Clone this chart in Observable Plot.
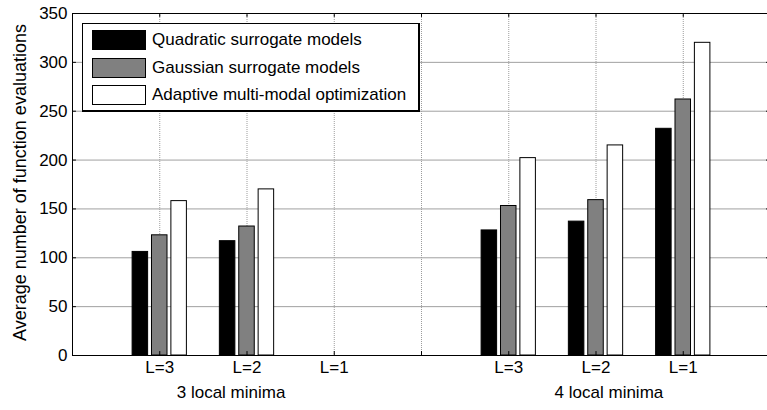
<!DOCTYPE html>
<html><head><meta charset="utf-8">
<script src="https://cdn.jsdelivr.net/npm/d3@7"></script>
<script src="https://cdn.jsdelivr.net/npm/@observablehq/plot@0.6"></script>
<style>
html,body{margin:0;padding:0;background:#fff;overflow:hidden}
#wrap{position:relative;width:767px;height:410px;font-family:"Liberation Sans",Arial,Helvetica,sans-serif;color:#000}
#wrap svg{display:block;font-family:"Liberation Sans",Arial,Helvetica,sans-serif}
#legend{position:absolute;left:82px;top:23px;width:335px;height:86px;border:1px solid #000;border-right-width:2px;border-bottom-width:2px;background:#fff;box-sizing:content-box}
.row{position:absolute;left:9px;height:20px;display:flex;align-items:center}
.sw{width:52px;height:18px;border:1px solid #000;margin-right:6px}
.lab{font-size:17px;line-height:20px;white-space:nowrap}
</style></head><body><div id="wrap"></div>
<script>
// ---- data ----
const categories = ["L=3", "L=2", "L=1", "", "L=3", "L=2", "L=1"];
const seriesNames = ["Quadratic surrogate models", "Gaussian surrogate models", "Adaptive multi-modal optimization"];
const quadratic = [106, 117, 0, 0, 128, 137, 232];
const gaussian  = [123, 132, 0, 0, 153, 159, 262];
const adaptive  = [158, 170, 0, 0, 202, 215, 320];
const seriesColors = ["#000000", "#808080", "#ffffff"];
const groupNames = ["3 local minima", "4 local minima"];
const yTicks = [0, 50, 100, 150, 200, 250, 300, 350];
const yTitle = "Average number of function evaluations";

// ---- derived ----
const seriesValues = [quadratic, gaussian, adaptive];
const positions = categories.map((_, i) => i + 1);
const xMax = categories.length + 1;
const yMax = yTicks[yTicks.length - 1];
const nS = seriesValues.length;
const groupW = Math.min(0.8, nS / (nS + 1.5));
const slot = groupW / nS;
const barW = slot * 0.8;

const barMarks = seriesValues.map((vals, k) => {
  const rows = vals.map((v, i) => ({pos: i + 1, value: v})).filter(d => d.value > 0);
  const off = (k - (nS - 1) / 2) * slot;
  return Plot.rectY(rows, {
    x1: d => d.pos + off - barW / 2,
    x2: d => d.pos + off + barW / 2,
    y: "value",
    fill: seriesColors[k],
    stroke: "#000",
    strokeWidth: 1
  });
});

const tickLenX = 0.045;   // in x data units
const tickLenY = 4;       // in y data units
const fs = 17;

const xLabel = groupNames.join("\u00a0".repeat(57));

const chart = Plot.plot({
  width: 767,
  height: 410,
  marginLeft: 72,
  marginRight: 0,
  marginTop: 13,
  marginBottom: 55,
  style: {fontFamily: '"Liberation Sans", Arial, sans-serif', fontSize: fs + "px", background: "#fff", color: "#000"},
  x: {domain: [0, xMax], range: [72, 770], axis: null},
  y: {domain: [0, yMax], axis: null},
  marks: [
    // grid
    Plot.ruleY(yTicks.filter(v => v > 0 && v < yMax), {stroke: "#a0a0a0", strokeWidth: 1}),
    Plot.ruleX(positions, {stroke: "#9c9c9c", strokeDasharray: "1,1", strokeWidth: 1}),
    // bars
    ...barMarks,
    // box lines
    Plot.ruleX([0], {stroke: "#000"}),
    Plot.ruleY([0], {stroke: "#000"}),
    Plot.ruleY([yMax], {stroke: "#000"}),
    // inner tick marks
    Plot.ruleY(yTicks, {x1: 0, x2: tickLenX, stroke: "#000"}),
    Plot.ruleY(yTicks, {x1: xMax - tickLenX, x2: xMax, stroke: "#000"}),
    Plot.ruleX(positions, {y1: 0, y2: tickLenY, stroke: "#000"}),
    Plot.ruleX(positions, {y1: yMax - tickLenY, y2: yMax, stroke: "#000"}),
    // y tick labels
    Plot.text(yTicks, {y: d => d, text: d => String(d), frameAnchor: "left", dx: -5, textAnchor: "end", fontSize: fs, fill: "#000"}),
    // x tick labels
    Plot.text(categories, {x: (d, i) => i + 1, text: d => d, frameAnchor: "bottom", dy: 17, fontSize: fs, fill: "#000"}),
    // x title (group names)
    Plot.text([xLabel], {text: d => d, frameAnchor: "bottom", dy: 42, fontSize: fs, fill: "#000"}),
    // y title
    Plot.text([yTitle], {text: d => d, frameAnchor: "left", dx: -52, dy: -2, rotate: -90, textAnchor: "middle", fontSize: 18, fill: "#000"})
  ]
});

const wrap = document.getElementById("wrap");
wrap.appendChild(chart);

// legend
const legend = document.createElement("div");
legend.id = "legend";
const rowTops = [6, 33.5, 61];
seriesNames.forEach((name, k) => {
  const row = document.createElement("div");
  row.className = "row";
  row.style.top = rowTops[k] + "px";
  const sw = document.createElement("div");
  sw.className = "sw";
  sw.style.background = seriesColors[k];
  const lab = document.createElement("span");
  lab.className = "lab";
  lab.textContent = name;
  row.appendChild(sw);
  row.appendChild(lab);
  legend.appendChild(row);
});
wrap.appendChild(legend);
</script>
</body></html>
